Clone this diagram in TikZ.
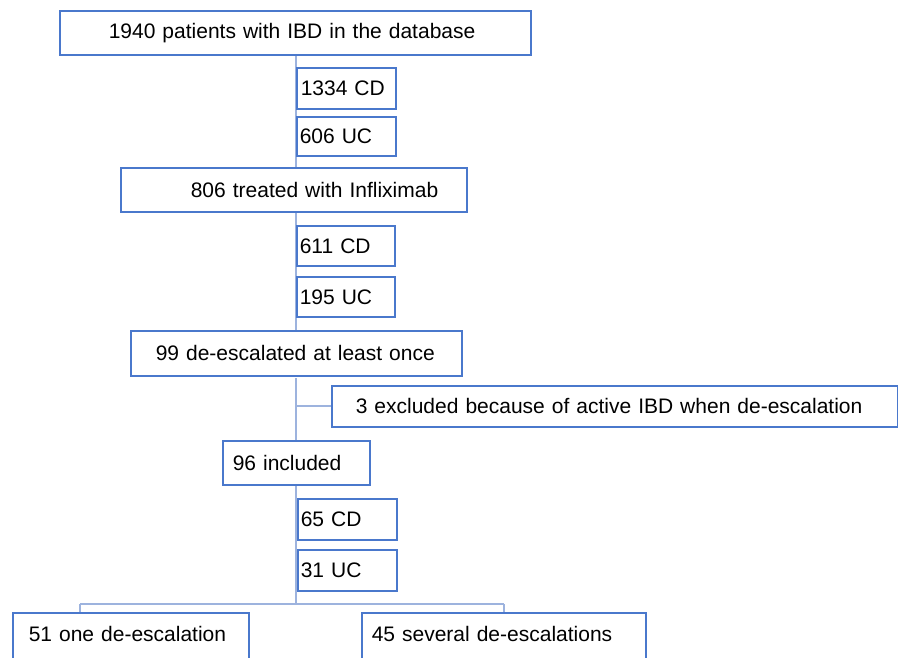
\documentclass[tikz,border=0pt]{standalone}
\usepackage{fontspec}
\setmainfont{Liberation Sans}
\definecolor{boxblue}{HTML}{4A78CC}
\definecolor{lineblue}{HTML}{9DB3DE}
\begin{document}
\begin{tikzpicture}[x=1pt,y=-1pt,
  box/.style={draw=boxblue, line width=1.6pt, fill=white, anchor=north west,
    inner xsep=0pt, inner ysep=0pt, align=left, font=\fontsize{21}{24}\selectfont},
  conn/.style={draw=lineblue, line width=1.1pt}]
\useasboundingbox (0,0) rectangle (898,657);
\clip (0,0) rectangle (898,657);
% connectors (drawn first)
\coordinate (t0) at (296,54);
\coordinate (t1) at (296,167);
\coordinate (t2) at (296,211);
\coordinate (t3) at (296,330);
\coordinate (t4) at (296,378);
\coordinate (t5) at (296,440);
\coordinate (t6) at (296,484);
\coordinate (t7) at (296,604);
\coordinate (jx) at (296,406);
\coordinate (bl) at (80,604);
\coordinate (br) at (504,604);
\coordinate (dl) at (80,612);
\coordinate (dr) at (504,612);
\draw[conn] (t0) -- (t1);
\draw[conn] (t2) -- (t3);
\draw[conn] (t4) -- (t5);
\draw[conn] (jx) -- (331,406);
\draw[conn] (t6) -- (t7);
\draw[conn] (bl) -- (br);
\draw[conn] (bl) -- (dl);
\draw[conn] (br) -- (dr);
% boxes
\node[box, text width=471pt, minimum height=44pt] (b1) at (59,10) {\hspace*{49pt}1940 patients with IBD in the database};
\node[box, text width=99pt, minimum height=41pt] (cd1) at (296,67) {\hspace*{4pt}1334 CD};
\node[box, text width=99pt, minimum height=39pt] (uc1) at (296,116) {\hspace*{3pt}606 UC};
\node[box, text width=346pt, minimum height=44pt] (b2) at (120,167) {\hspace*{70pt}806 treated with Infliximab};
\node[box, text width=98pt, minimum height=40pt] (cd2) at (296,225) {\hspace*{3pt}611 CD};
\node[box, text width=98pt, minimum height=40pt] (uc2) at (296,276) {\hspace*{3pt}195 UC};
\node[box, text width=331pt, minimum height=45pt] (b3) at (130,330) {\hspace*{25pt}99 de-escalated at least once};
\node[box, text width=566pt, minimum height=41pt] (ex) at (331,385) {\hspace*{24pt}3 excluded because of active IBD when de-escalation};
\node[box, text width=147pt, minimum height=44pt] (inc) at (222,440) {\hspace*{10pt}96 included};
\node[box, text width=99pt, minimum height=41pt] (cd3) at (297,498) {\hspace*{3pt}65 CD};
\node[box, text width=99pt, minimum height=41pt] (uc3) at (297,549) {\hspace*{3pt}31 UC};
\node[box, text width=236pt, minimum height=54pt, text depth=12pt] (o1) at (12,612) {\hspace*{16pt}51 one de-escalation};
\node[box, text width=284pt, minimum height=54pt, text depth=12pt] (o2) at (361,612) {\hspace*{10pt}45 several de-escalations};
\end{tikzpicture}
\end{document}
